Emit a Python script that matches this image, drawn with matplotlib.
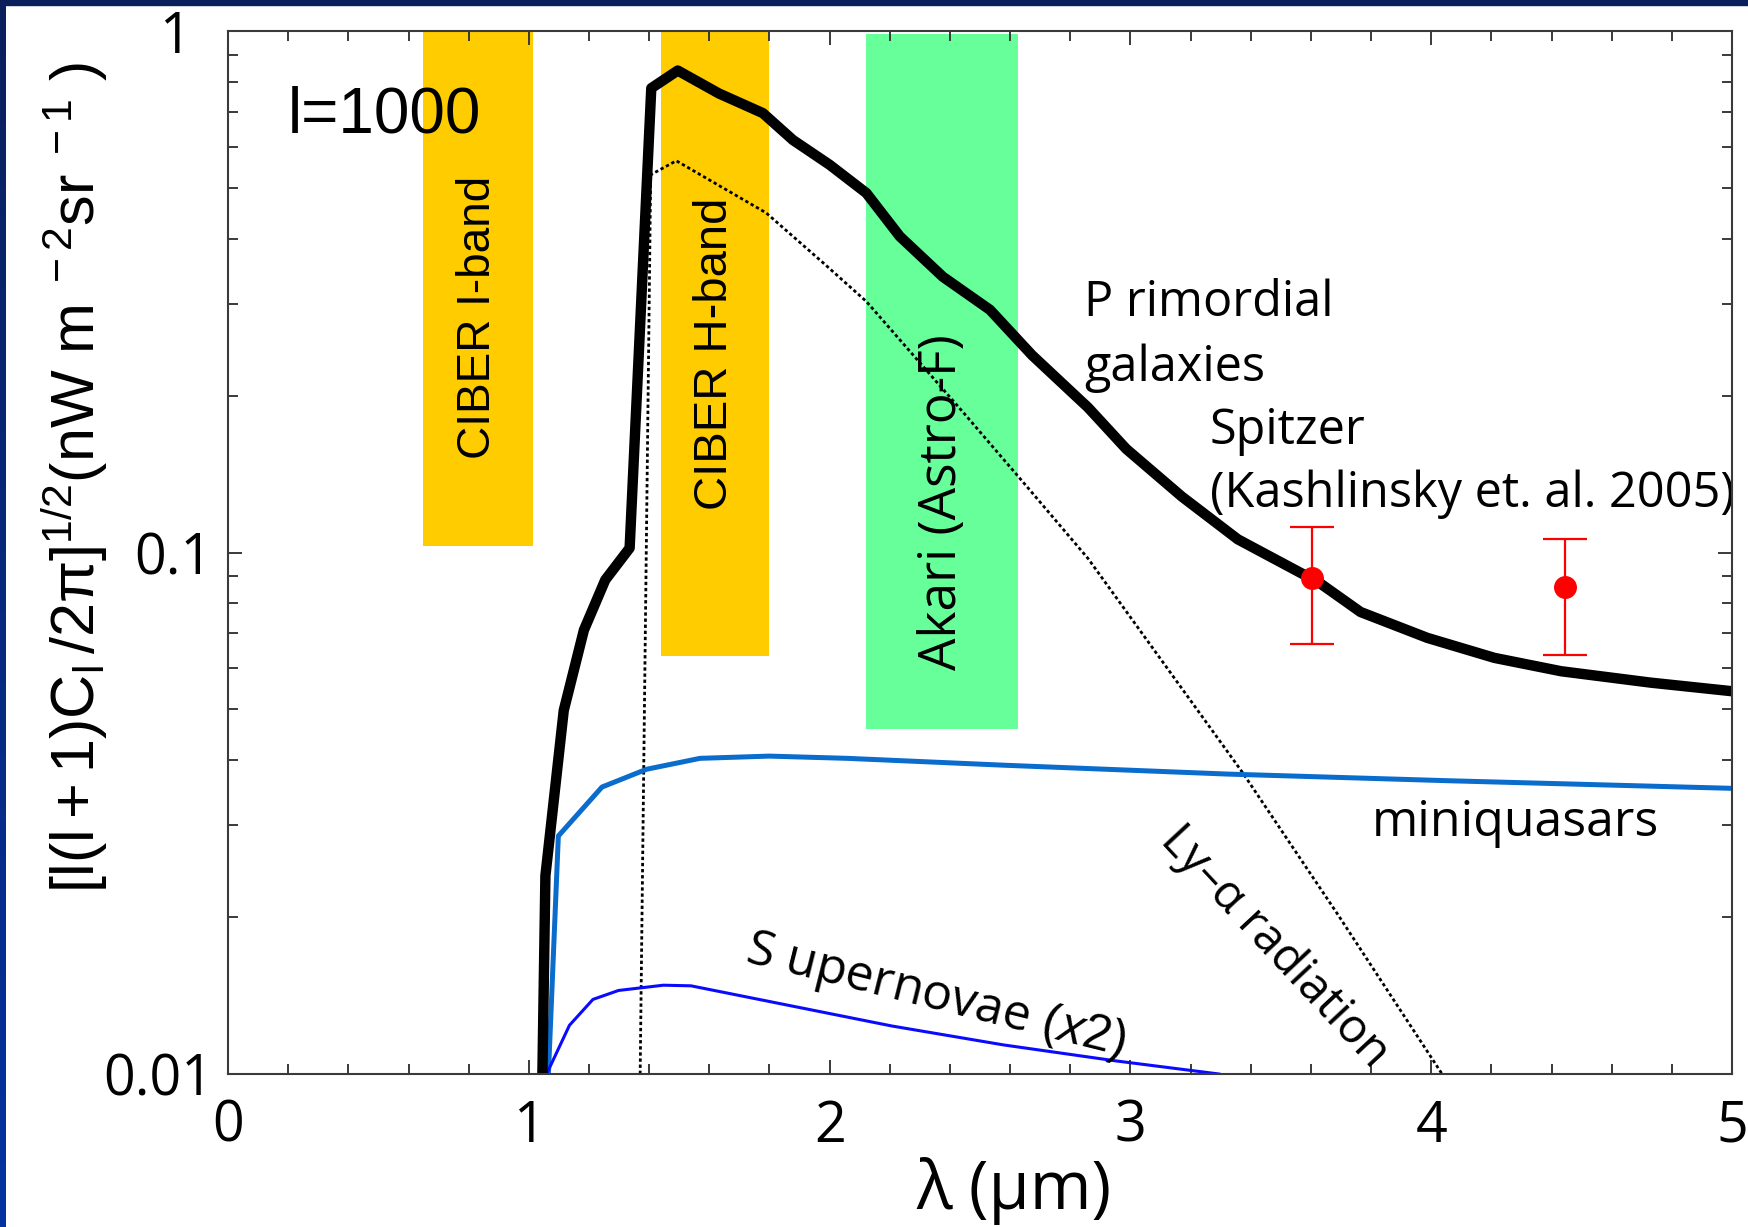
import numpy as np
import matplotlib.pyplot as plt
import matplotlib.transforms as mtransforms
from matplotlib.colors import LinearSegmentedColormap
from matplotlib.ticker import MultipleLocator, LogLocator, NullFormatter

plt.rcParams['mathtext.fontset'] = 'custom'
plt.rcParams['mathtext.rm'] = 'Liberation Sans'
plt.rcParams['mathtext.it'] = 'Liberation Sans:italic'

# instrument bands: x range (micron) and vertical extent
band_names = ['CIBER I-band', 'CIBER H-band', 'Akari (Astro-F)']
band_x0 = [0.649, 1.439, 2.122]
band_x1 = [1.013, 1.799, 2.626]
band_ylo = [0.1027, 0.0634, 0.0458]
band_yhi = [1.0, 1.0, 0.985]
band_label_y = [0.282, 0.240, 0.125]

# primordial galaxies (total)
gal_x = [1.045, 1.055, 1.116, 1.183, 1.254, 1.335, 1.407, 1.495, 1.632, 1.778,
         1.878, 2.0, 2.122, 2.233, 2.376, 2.533, 2.673, 2.859, 2.986, 3.171,
         3.357, 3.629, 3.765, 3.987, 4.210, 4.432, 4.729, 5.0]
gal_y = [0.01, 0.024, 0.0498, 0.071, 0.0886, 0.102, 0.777, 0.840, 0.759, 0.696,
         0.618, 0.554, 0.489, 0.404, 0.338, 0.292, 0.239, 0.1897, 0.158, 0.128,
         0.106, 0.0874, 0.0769, 0.0686, 0.0628, 0.0592, 0.0563, 0.0542]

# Ly-alpha radiation component
lya_x = [1.370, 1.405, 1.490, 1.789, 1.984, 2.122, 2.451, 2.661, 2.859, 3.372, 3.69, 4.036]
lya_y = [0.01, 0.530, 0.564, 0.448, 0.357, 0.303, 0.1837, 0.1327, 0.0974, 0.0379, 0.0202, 0.01]

# miniquasars
mq_x = [1.065, 1.098, 1.243, 1.391, 1.569, 1.799, 2.059, 2.578, 3.320, 4.062, 5.0]
mq_y = [0.01, 0.0286, 0.0355, 0.0384, 0.0403, 0.0407, 0.0403, 0.0391, 0.0376, 0.0365, 0.0353]

# supernovae (x2)
sn_x = [1.059, 1.135, 1.213, 1.298, 1.447, 1.539, 1.836, 2.207, 2.578, 2.949, 3.294]
sn_y = [0.01, 0.0124, 0.0139, 0.01446, 0.0148, 0.01476, 0.01364, 0.01236, 0.01137, 0.0106, 0.01]

# Spitzer measurements (Kashlinsky et al. 2005)
spitzer_x = [3.602, 4.444]
spitzer_y = [0.0895, 0.0857]
spitzer_lo = [0.0667, 0.0637]
spitzer_hi = [0.1117, 0.1063]

fig = plt.figure(figsize=(17.49, 12.27), dpi=100)
fig.patch.set_facecolor('white')

# slide frame: dark strip on top, gradient strip on the left
fig.patches.append(plt.Rectangle((0, 1 - 4.5 / 1227), 1, 4.5 / 1227, transform=fig.transFigure,
                                 color='#0b1f5c', zorder=10))
lax = fig.add_axes([0, 0, 6 / 1749, 1])
cmap = LinearSegmentedColormap.from_list('frame', ['#0b1f5c', '#0533a0'])
lax.imshow(np.linspace(0, 1, 256).reshape(-1, 1), aspect='auto', cmap=cmap)
lax.axis('off')

ax = fig.add_axes([0.1304, 0.1247, 0.8599, 0.8500])
ax.set_yscale('log')
ax.set_xlim(0, 5)
ax.set_ylim(0.01, 1)

band_colors = ['#ffcc00', '#ffcc00', '#66ff99']
band_fonts = ['Liberation Sans', 'Liberation Sans', 'Open Sans']
band_sizes = [33, 34, 37]
for name, x0, x1, ylo, yhi, ly, c, fam, fs in zip(band_names, band_x0, band_x1, band_ylo,
                                                  band_yhi, band_label_y, band_colors,
                                                  band_fonts, band_sizes):
    ax.fill_between([x0, x1], ylo, yhi, color=c, lw=0, zorder=1)
    ax.text((x0 + x1) / 2, ly, name, rotation=90, ha='center', va='center',
            fontsize=fs, family=fam, zorder=2)

ax.plot(gal_x, gal_y, color='black', lw=7.5, zorder=5)
ax.plot(lya_x, lya_y, color='black', lw=2, linestyle=(0, (1.2, 1.0)), zorder=4)
ax.plot(mq_x, mq_y, color='#0a6ccc', lw=3.6, zorder=4)
ax.plot(sn_x, sn_y, color='#0a0aff', lw=2.2, zorder=4)

sy = np.array(spitzer_y)
yerr = [sy - np.array(spitzer_lo), np.array(spitzer_hi) - sy]
ax.errorbar(spitzer_x, spitzer_y, yerr=yerr, fmt='o', color='#ff0000', ms=15.5,
            elinewidth=1.6, capsize=16, capthick=1.6, zorder=6)

# annotations
ax.text(0.197, 0.69, 'l=1000', fontsize=46, family='Liberation Sans', va='center', zorder=7)
ax.text(2.845, 0.301, 'P rimordial', fontsize=35, family='Open Sans', va='center', zorder=7)
ax.text(2.845, 0.226, 'galaxies', fontsize=35, family='Open Sans', va='center', zorder=7)
ax.text(3.264, 0.1706, 'Spitzer', fontsize=35, family='Open Sans', va='center', zorder=7)
ax.text(3.264, 0.1295, '(Kashlinsky et. al. 2005)', fontsize=35, family='Open Sans',
        va='center', zorder=7)
ax.text(3.802, 0.0303, 'miniquasars', fontsize=36, family='Open Sans', va='center', zorder=7)
ax.text(3.48, 0.0175, 'Ly–α radiation', fontsize=34, family='Open Sans', rotation=-47,
        ha='center', va='center', rotation_mode='anchor', zorder=7)
ax.text(2.35, 0.01405, 'S upernovae $\\mathit{(x2)}$', fontsize=36, family='Open Sans',
        rotation=-14, ha='center', va='center', rotation_mode='anchor', zorder=7)

# axes styling
ax.set_xticks([0, 1, 2, 3, 4, 5])
ax.set_xticklabels(['0', '1', '2', '3', '4', '5'])
ax.xaxis.set_minor_locator(MultipleLocator(0.2))
ax.set_yticks([0.01, 0.1, 1])
ax.set_yticklabels(['0.01', '0.1', '1'])
ax.yaxis.set_minor_locator(LogLocator(base=10, subs=np.arange(2, 10)))
ax.yaxis.set_minor_formatter(NullFormatter())
for s in ax.spines.values():
    s.set_linewidth(1.5)
    s.set_color('#3a3a3a')
    s.set_zorder(8)
ax.tick_params(which='both', direction='in', top=True, right=True, width=1.4, color='#3a3a3a')
ax.tick_params(which='major', length=10)
ax.tick_params(which='minor', length=7)
ax.tick_params(axis='x', labelsize=40, pad=18)
ax.tick_params(axis='y', labelsize=40, pad=11)
for lbl in ax.get_xticklabels() + ax.get_yticklabels():
    lbl.set_family('Open Sans')
top_lbl = ax.get_yticklabels()[-1]
top_lbl.set_transform(top_lbl.get_transform() +
                      mtransforms.ScaledTranslation(-0.22, 0, fig.dpi_scale_trans))

fig.text(0.580, 0.0293, 'λ (μm)', fontsize=48, family='Open Sans', ha='center', va='center')
fig.text(0.0425, 0.6112,
         r'$\mathrm{[l(l+1)C_l\,/2\pi]^{1/2}(nW\ m^{\ -2}sr^{\ -1}\ )}$',
         fontsize=44, rotation=90, ha='center', va='center')

fig.savefig('out.png', dpi=100)
